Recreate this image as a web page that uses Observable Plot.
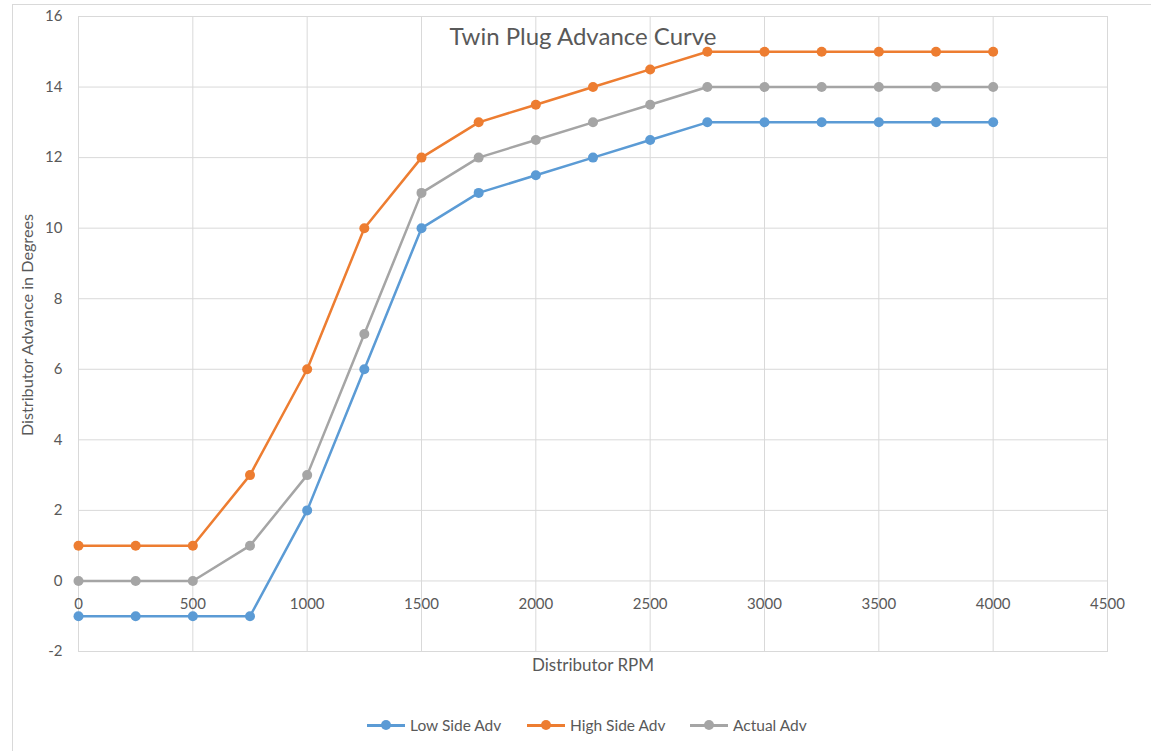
<!DOCTYPE html>
<html>
<head>
<meta charset="utf-8">
<script src="https://cdn.jsdelivr.net/npm/d3@7"></script>
<script src="https://cdn.jsdelivr.net/npm/@observablehq/plot@0.6"></script>
<style>
  html, body { margin: 0; padding: 0; background: #fff; overflow: hidden; width: 1151px; height: 751px; }
  #wrap { position: relative; width: 1151px; height: 751px; font-family: Lato, "Open Sans", sans-serif; }
  #border { position: absolute; left: 12px; top: 4px; width: 1300px; height: 900px; border: 1px solid #d9d9d9; box-sizing: border-box; }
  #chart { position: absolute; left: 0; top: 0; }
  #legend { position: absolute; top: 714px; left: 0; width: 1151px; height: 22px; font-size: 15.5px; color: #595959; }
  .item { position: absolute; display: flex; align-items: center; height: 22px; }
  .sw { position: relative; width: 38px; height: 22px; margin-right: 5px; }
  .sw .ln { position: absolute; left: 0; right: 0; top: 10px; height: 2.5px; }
  .sw .dt { position: absolute; left: 14px; top: 6px; width: 10px; height: 10px; border-radius: 50%; }
</style>
</head>
<body>
<div id="wrap">
  <div id="border"></div>
  <div id="chart"></div>
  <div id="legend"></div>
</div>
<script>
const rpm = [0, 250, 500, 750, 1000, 1250, 1500, 1750, 2000, 2250, 2500, 2750, 3000, 3250, 3500, 3750, 4000];
const lowSide = [-1, -1, -1, -1, 2, 6, 10, 11, 11.5, 12, 12.5, 13, 13, 13, 13, 13, 13];
const highSide = [1, 1, 1, 3, 6, 10, 12, 13, 13.5, 14, 14.5, 15, 15, 15, 15, 15, 15];
const actual = [0, 0, 0, 1, 3, 7, 11, 12, 12.5, 13, 13.5, 14, 14, 14, 14, 14, 14];
const seriesNames = ["Low Side Adv", "High Side Adv", "Actual Adv"];
const seriesColors = ["#5B9BD5", "#ED7D31", "#A5A5A5"];
const xTicks = [0, 500, 1000, 1500, 2000, 2500, 3000, 3500, 4000, 4500];
const yTicks = [-2, 0, 2, 4, 6, 8, 10, 12, 14, 16];
const title = "Twin Plug Advance Curve";
const xLabel = "Distributor RPM";
const yLabel = "Distributor Advance in Degrees";

const seriesValues = [lowSide, highSide, actual];
const data = [];
seriesValues.forEach((vals, i) => {
  vals.forEach((v, j) => data.push({series: seriesNames[i], x: rpm[j], y: v}));
});

const grid = "#d9d9d9";
const txt = "#595959";

const marks = [
  Plot.ruleX(xTicks, {stroke: grid, strokeWidth: 1}),
  Plot.ruleY(yTicks, {stroke: grid, strokeWidth: 1}),
  Plot.frame({stroke: grid}),
  Plot.text(xTicks, {x: d => d, y: 0, dy: 23, text: d => String(d), fill: txt, fontSize: 15}),
  Plot.text([title], {frameAnchor: "top", lineAnchor: "middle", dx: -10, dy: 21, text: d => d, fill: txt, fontSize: 24}),
  Plot.text([xLabel], {frameAnchor: "bottom", lineAnchor: "middle", dy: 14, text: d => d, fill: txt, fontSize: 17}),
  Plot.text([yLabel], {frameAnchor: "left", textAnchor: "middle", lineAnchor: "middle", dx: -51, dy: -9, rotate: -90, text: d => d, fill: txt, fontSize: 16.2})
];
seriesNames.forEach((name, i) => {
  const d = data.filter(r => r.series === name);
  marks.push(Plot.line(d, {x: "x", y: "y", stroke: seriesColors[i], strokeWidth: 2.5}));
  marks.push(Plot.dot(d, {x: "x", y: "y", fill: seriesColors[i], r: 5}));
});

const chart = Plot.plot({
  width: 1151,
  height: 751,
  marginLeft: 78,
  marginRight: 44,
  marginTop: 16,
  marginBottom: 100,
  style: {fontFamily: "Lato, 'Open Sans', sans-serif", fontSize: "15px", color: txt, background: "transparent"},
  x: {domain: [0, 4500], axis: null},
  y: {domain: [-2, 16], ticks: yTicks, tickSize: 0, tickPadding: 16, label: null, tickFormat: d => String(d)},
  marks
});
document.getElementById("chart").appendChild(chart);

const legendLefts = [367, 527, 690];
const legend = document.getElementById("legend");
seriesNames.forEach((name, i) => {
  const it = document.createElement("div");
  it.className = "item";
  it.style.left = legendLefts[i] + "px";
  it.innerHTML = `<div class="sw"><div class="ln" style="background:${seriesColors[i]}"></div><div class="dt" style="background:${seriesColors[i]}"></div></div><span>${name}</span>`;
  legend.appendChild(it);
});
</script>
</body>
</html>
